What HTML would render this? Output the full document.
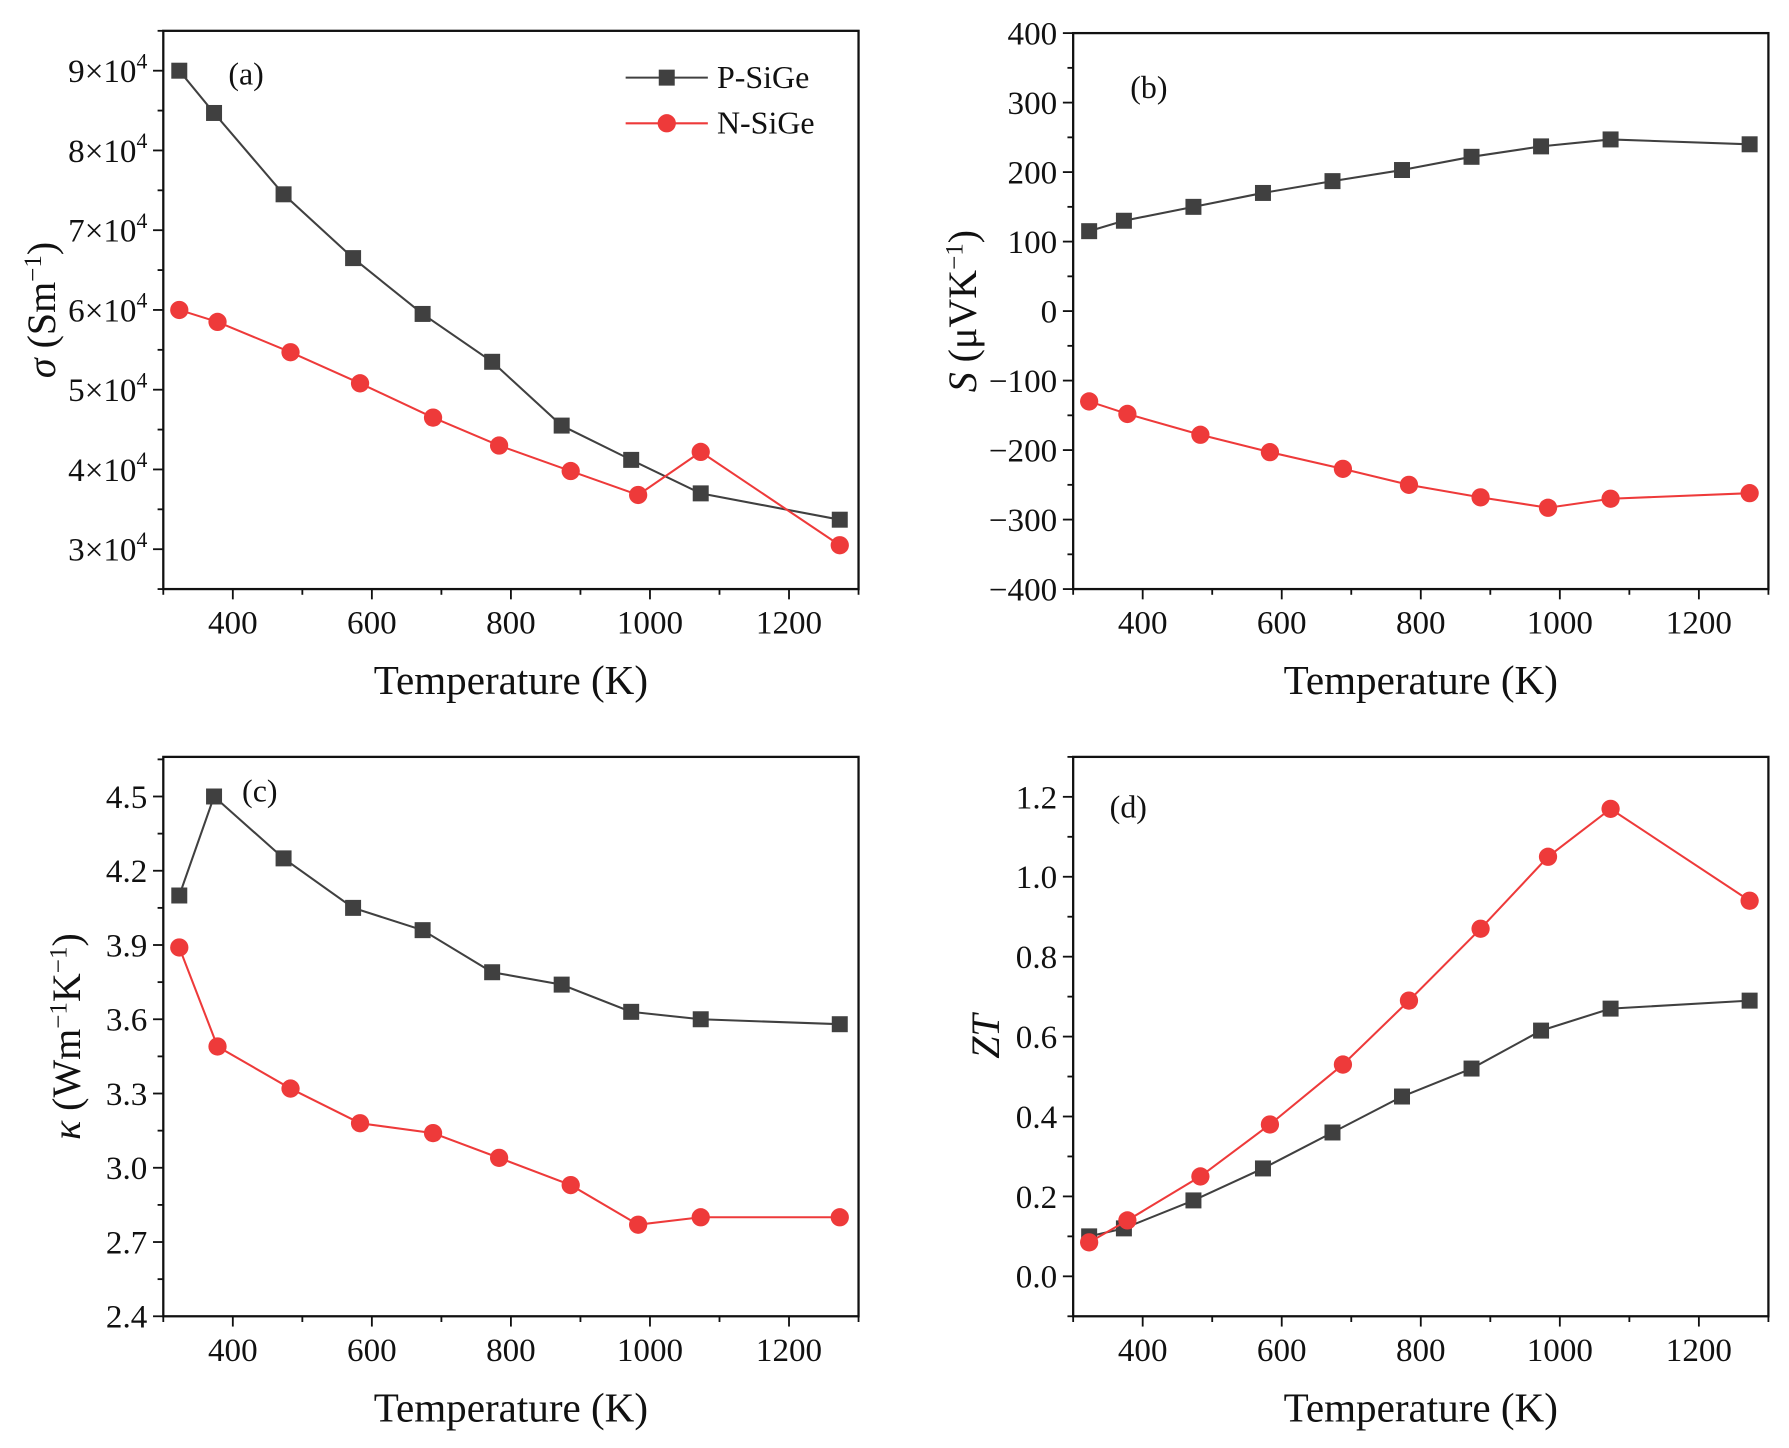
<!DOCTYPE html>
<html><head><meta charset="utf-8"><style>
html,body{margin:0;padding:0;background:#fff;}
svg, svg text{font-family:"Liberation Serif","DejaVu Serif",serif;}
</style></head><body>
<svg id="fig" width="1789" height="1443" viewBox="0 0 1567 1264" font-family="Liberation Serif, serif" xmlns="http://www.w3.org/2000/svg"></svg>
<script>
const tempP = [323, 373, 473, 573, 673, 773, 873, 973, 1073, 1273];
const tempN = [323, 378, 483, 583, 688, 783, 886, 983, 1073, 1273];
const sigmaP = [9.0, 8.47, 7.45, 6.65, 5.95, 5.35, 4.55, 4.12, 3.7, 3.37];
const sigmaN = [6.0, 5.85, 5.47, 5.08, 4.65, 4.3, 3.98, 3.68, 4.22, 3.05];
const seebP = [115, 130, 150, 170, 187, 203, 222, 237, 247, 240];
const seebN = [-130, -148, -178, -203, -227, -250, -268, -283, -270, -262];
const kappaP = [4.1, 4.5, 4.25, 4.05, 3.96, 3.79, 3.74, 3.63, 3.6, 3.58];
const kappaN = [3.89, 3.49, 3.32, 3.18, 3.14, 3.04, 2.93, 2.77, 2.80, 2.80];
const ztP = [0.1, 0.12, 0.19, 0.27, 0.36, 0.45, 0.52, 0.615, 0.67, 0.69];
const ztN = [0.085, 0.14, 0.25, 0.38, 0.53, 0.69, 0.87, 1.05, 1.17, 0.94];
const xTicks = [400, 600, 800, 1000, 1200];
const sigmaTicks = [3, 4, 5, 6, 7, 8, 9];
const seebTicks = [-400, -300, -200, -100, 0, 100, 200, 300, 400];
const kappaTicks = [2.4, 2.7, 3.0, 3.3, 3.6, 3.9, 4.2, 4.5];
const ztTicks = [0.0, 0.2, 0.4, 0.6, 0.8, 1.0, 1.2];

const NS = "http://www.w3.org/2000/svg";
const svg = document.getElementById('fig');
const PC = '#404040', NC = '#ee3a3a';
const FF = 'Liberation Serif, serif';
function mk(tag, attrs, parent) {
  const e = document.createElementNS(NS, tag);
  for (const k in attrs) e.setAttribute(k, attrs[k]);
  if (tag === 'text') e.setAttribute('font-family', FF);
  (parent || svg).appendChild(e);
  return e;
}
function panel(o) {
  const g = mk('g', {});
  
  
  const X = v => o.x0 + (v - 300) / 1000 * (o.x1 - o.x0);
  const Y = v => o.y1 - (v - o.ymin) / (o.ymax - o.ymin) * (o.y1 - o.y0);
  const box = mk('rect', {x:o.x0, y:o.y0, width:o.x1-o.x0, height:o.y1-o.y0, fill:'none', stroke:'#111', 'stroke-width':2}, g);
  
  
  for (let v = 300; v <= 1300; v += 100) {
    const major = v % 200 === 0;
    mk('line', {x1:X(v), x2:X(v), y1:o.y1, y2:o.y1 + (major ? 9 : 5), stroke:'#111', 'stroke-width':1.6}, g);
  }
  xTicks.forEach(v => {
    const t = mk('text', {x:X(v), y:o.y1 + 39, 'font-size':29, 'text-anchor':'middle', fill:'#111'}, g);
    t.textContent = v;
    
    
  });
  const xt = mk('text', {x:(o.x0+o.x1)/2, y:o.y1 + 92, 'font-size':36, 'text-anchor':'middle', fill:'#111'}, g);
  xt.textContent = 'Temperature (K)';
  
  
  const tk = o.ticks;
  const step = tk[1] - tk[0];
  for (let i = 0; i < tk.length; i++) {
    const v = tk[i];
    const y = Y(v);
    mk('line', {x1:o.x0 - 9, x2:o.x0, y1:y, y2:y, stroke:'#111', 'stroke-width':1.6}, g);
    const m = v + step / 2;
    if (m <= o.ymax) mk('line', {x1:o.x0 - 5, x2:o.x0, y1:Y(m), y2:Y(m), stroke:'#111', 'stroke-width':1.6}, g);
    const mm = v - step / 2;
    if (i === 0 && mm >= o.ymin) mk('line', {x1:o.x0 - 5, x2:o.x0, y1:Y(mm), y2:Y(mm), stroke:'#111', 'stroke-width':1.6}, g);
    const t = mk('text', {x:o.x0 - 14, y:y + 10, 'font-size':29, 'text-anchor':'end', fill:'#111'}, g);
    
    
    if (o.sci) {
      t.textContent = v + '×10';
      const s = mk('tspan', {dy:-12, 'font-size':19}, t);
      s.textContent = '4';
    } else {
      t.textContent = o.fmt ? o.fmt(v) : String(v).replace('-', '−');
    }
  }
  const yt = mk('text', {x:0, y:0, 'font-size':35, 'text-anchor':'middle', fill:'#111', transform:`translate(${o.ytx},${(o.y0+o.y1)/2}) rotate(-90)`}, g);
  yt.innerHTML = o.ytitle;
  
  
  const pl = mk('text', {x:o.lab[0], y:o.lab[1], 'font-size':28, fill:'#111'}, g);
  pl.textContent = o.label;
  
  
  [[tempP, o.p, PC, 'sq', 'p-sige-series'], [tempN, o.n, NC, 'ci', 'n-sige-series']].forEach(([xs, ys, c, shape, nm]) => {
    const sg = mk('g', {}, g);
    
    
    const pts = xs.map((x, i) => X(x) + ',' + Y(ys[i])).join(' ');
    mk('polyline', {points:pts, fill:'none', stroke:c, 'stroke-width':1.8}, sg);
    xs.forEach((x, i) => {
      let m;
      if (shape === 'sq') m = mk('rect', {x:X(x)-7, y:Y(ys[i])-7, width:14, height:14, fill:c}, sg);
      else m = mk('circle', {cx:X(x), cy:Y(ys[i]), r:8, fill:c}, sg);
      
      
    });
  });
  return g;
}
panel({name:'panel-a-conductivity', x0:143, x1:752, y0:27, y1:516, ymin:2.5, ymax:9.5, ticks:sigmaTicks, sci:true,
  p:sigmaP, n:sigmaN, label:'(a)', lab:[200,74], ytx:48,
  ytitle:'<tspan font-style="italic">σ</tspan> (Sm<tspan dy="-12" font-size="22">−1</tspan><tspan dy="12">)</tspan>'});
panel({name:'panel-b-seebeck', x0:940, x1:1549, y0:29, y1:516, ymin:-400, ymax:400, ticks:seebTicks,
  p:seebP, n:seebN, label:'(b)', lab:[990,86], ytx:855,
  ytitle:'<tspan font-style="italic">S</tspan> (μVK<tspan dy="-12" font-size="22">−1</tspan><tspan dy="12">)</tspan>'});
panel({name:'panel-c-thermal-conductivity', x0:143, x1:752, y0:663, y1:1153, ymin:2.4, ymax:4.66, ticks:kappaTicks, fmt:v=>v.toFixed(1),
  p:kappaP, n:kappaN, label:'(c)', lab:[212,702], ytx:70,
  ytitle:'<tspan font-style="italic">κ</tspan>  (Wm<tspan dy="-12" font-size="22">−1</tspan><tspan dy="12">K</tspan><tspan dy="-12" font-size="22">−1</tspan><tspan dy="12">)</tspan>'});
panel({name:'panel-d-zt', x0:940, x1:1549, y0:663, y1:1153, ymin:-0.1, ymax:1.3, ticks:ztTicks, fmt:v=>v.toFixed(1),
  p:ztP, n:ztN, label:'(d)', lab:[972,716], ytx:875,
  ytitle:'<tspan font-style="italic">ZT</tspan>'});
const lg = mk('g', {});


[[68, PC, 'sq', 'P-SiGe'], [108, NC, 'ci', 'N-SiGe']].forEach(([y, c, s, txt]) => {
  const e = mk('g', {}, lg);
  
  
  mk('line', {x1:548, x2:620, y1:y, y2:y, stroke:c, 'stroke-width':1.8}, e);
  if (s === 'sq') mk('rect', {x:577, y:y-7, width:14, height:14, fill:c}, e);
  else mk('circle', {cx:584, cy:y, r:8, fill:c}, e);
  const t = mk('text', {x:628, y:y+9, 'font-size':28, fill:'#111'}, e);
  t.textContent = txt;
});
</script>
</body></html>
